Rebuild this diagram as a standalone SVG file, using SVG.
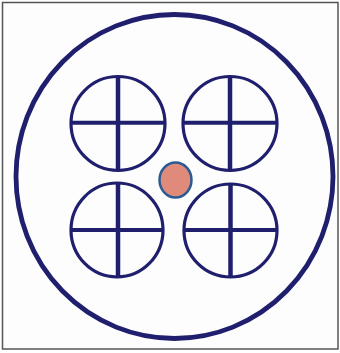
<svg xmlns="http://www.w3.org/2000/svg" width="340" height="353" viewBox="0 0 340 353">
<style>
.c{fill:none;stroke:#1f1f6e;stroke-width:3.2}
.v{stroke:#1f1f6e;stroke-width:4.5}
.h{stroke:#1f1f6e;stroke-width:4}
</style>
<rect x="0" y="0" width="340" height="353" fill="#ffffff"/>
<rect x="2.5" y="2.5" width="335.5" height="346.5" fill="#fdfdfe" stroke="#555555" stroke-width="1.5"/>
<g id="outer">
<ellipse cx="174.5" cy="176.5" rx="158.5" ry="162" fill="none" stroke="#1f1f6e" stroke-width="4.8"/>
</g>
<g id="tl">
<circle class="c" cx="118" cy="123.5" r="47"/>
<line class="v" x1="118" y1="76" x2="118" y2="171"/>
<line class="h" x1="71" y1="122.7" x2="165" y2="122.7"/>
</g>
<g id="tr">
<circle class="c" cx="230" cy="123.5" r="47"/>
<line class="v" x1="230" y1="76" x2="230" y2="171"/>
<line class="h" x1="183" y1="122.7" x2="277" y2="122.7"/>
</g>
<g id="bl">
<ellipse class="c" cx="117" cy="230" rx="46" ry="47"/>
<line class="v" x1="118" y1="183" x2="118" y2="277"/>
<line class="h" x1="71" y1="230" x2="163" y2="230"/>
</g>
<g id="br">
<circle class="c" cx="230.5" cy="230.5" r="46.5"/>
<line class="v" x1="230.5" y1="184" x2="230.5" y2="277"/>
<line class="h" x1="184" y1="230" x2="277" y2="230"/>
</g>
<g id="center">
<ellipse cx="175.5" cy="180" rx="16" ry="17.5" fill="#e08a7c" stroke="#2b5b92" stroke-width="2.5"/>
</g>
</svg>
